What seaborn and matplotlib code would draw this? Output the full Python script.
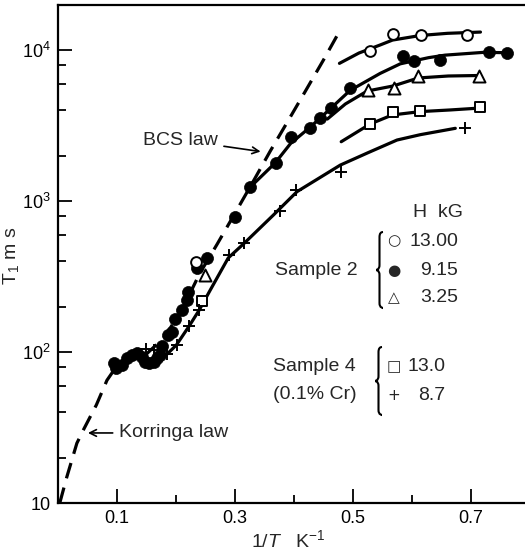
import matplotlib
matplotlib.use("Agg")
import matplotlib.pyplot as plt
import seaborn as sns
from matplotlib.path import Path
from matplotlib.patches import PathPatch
from matplotlib.ticker import FixedLocator, FixedFormatter, NullFormatter

# values: x = 1/T (K^-1), y = T1 (ms)
# sample 2, 13.00 kG (open circles)
s2_130_x = [0.2344, 0.529, 0.5675, 0.6146, 0.6925]
s2_130_y = [396, 9850, 12730, 12500, 12560]
# sample 2, 9.15 kG (filled circles)
s2_915_x = [0.095, 0.099, 0.108, 0.117, 0.125, 0.134, 0.142, 0.148, 0.155, 0.162,
            0.168, 0.173, 0.176, 0.187, 0.193, 0.199, 0.210, 0.219, 0.221, 0.236,
            0.2525, 0.3005, 0.325, 0.369, 0.395, 0.427, 0.444, 0.462, 0.495, 0.585,
            0.603, 0.6475, 0.730, 0.761]
s2_915_y = [85, 78, 82, 91, 95, 99, 93, 86, 84, 86,
            91, 95, 110, 130, 136, 165, 190, 221, 251, 358,
            418, 789, 1244, 1795, 2643, 3042, 3528, 4140, 5574, 9120,
            8490, 8630, 9700, 9510]
# sample 2, 3.25 kG (triangles)
s2_325_x = [0.2485, 0.5247, 0.5695, 0.6107, 0.713]
s2_325_y = [324, 5395, 5600, 6730, 6780]
# sample 4, 13.0 kG (squares)
s4_130_x = [0.244, 0.529, 0.5675, 0.613, 0.716]
s4_130_y = [219, 3250, 3882, 3935, 4175]
# sample 4, 8.7 kG (crosses)
s4_87_x = [0.149, 0.162, 0.185, 0.201, 0.2225, 0.2395, 0.289, 0.316, 0.3756, 0.404, 0.480, 0.690]
s4_87_y = [105, 103, 97, 111, 149, 190, 439, 525, 855, 1175, 1564, 3030]

# drawn curves
law_x = [0.003, 0.015, 0.032, 0.044, 0.065, 0.083, 0.097, 0.12, 0.15, 0.18,
         0.21, 0.24, 0.27, 0.30, 0.33, 0.36, 0.39, 0.42, 0.45, 0.478]
law_y = [10, 14.9, 24.9, 31, 44.6, 65, 78, 89, 97, 125,
         190, 330, 520, 830, 1330, 2150, 3400, 5400, 8600, 13500]
fit_130_x = [0.477, 0.51, 0.546, 0.567, 0.614, 0.66, 0.716]
fit_130_y = [8160, 9550, 10800, 11640, 12480, 12900, 13150]
fit_915_x = [0.326, 0.368, 0.394, 0.428, 0.462, 0.495, 0.546, 0.58, 0.628, 0.656, 0.721, 0.762]
fit_915_y = [1238, 1786, 2400, 3100, 4100, 5400, 7000, 8100, 8900, 9250, 9650, 9600]
fit_325_x = [0.4565, 0.487, 0.524, 0.568, 0.6107, 0.6615, 0.713]
fit_325_y = [3490, 4390, 5350, 5780, 6530, 6730, 6780]
fit_s4_130_x = [0.480, 0.529, 0.5666, 0.614, 0.665, 0.716]
fit_s4_130_y = [2470, 3236, 3715, 3910, 4010, 4130]
fit_s4_87_x = [0.185, 0.2005, 0.2225, 0.2395, 0.258, 0.2886, 0.316, 0.365, 0.405,
               0.4785, 0.526, 0.5746, 0.614, 0.6734]
fit_s4_87_y = [97, 111, 149, 190, 257, 420, 527, 807, 1153,
               1730, 2094, 2535, 2750, 3030]

sns.set_theme(style="ticks")
plt.rcParams["font.family"] = ["Liberation Sans", "DejaVu Sans"]
plt.rcParams["mathtext.fontset"] = "custom"
plt.rcParams["mathtext.rm"] = "Liberation Sans"
plt.rcParams["mathtext.it"] = "Liberation Sans:italic"

fig = plt.figure(figsize=(5.25, 5.51), dpi=100)
ax = fig.add_axes([58 / 525, 48 / 551, 467 / 525, 498 / 551])
ax.set_yscale("log")

line_kw = dict(ax=ax, color="black", lw=2.3, sort=False)
sns.lineplot(x=law_x, y=law_y, linestyle=(0, (5, 3)), **line_kw)
sns.lineplot(x=fit_130_x, y=fit_130_y, **line_kw)
sns.lineplot(x=fit_915_x, y=fit_915_y, **line_kw)
sns.lineplot(x=fit_325_x, y=fit_325_y, **line_kw)
sns.lineplot(x=fit_s4_130_x, y=fit_s4_130_y, **line_kw)
sns.lineplot(x=fit_s4_87_x, y=fit_s4_87_y, **line_kw)

sns.scatterplot(x=s2_915_x, y=s2_915_y, ax=ax, marker="o", s=75, color="black",
                edgecolor="black", linewidth=0.5, zorder=3)
sns.scatterplot(x=s2_130_x, y=s2_130_y, ax=ax, marker="o", s=60, facecolor="white",
                edgecolor="black", linewidth=1.4, zorder=3)
sns.scatterplot(x=s2_325_x, y=s2_325_y, ax=ax, marker="^", s=75, facecolor="white",
                edgecolor="black", linewidth=1.4, zorder=3)
sns.scatterplot(x=s4_130_x, y=s4_130_y, ax=ax, marker="s", s=50, facecolor="white",
                edgecolor="black", linewidth=1.4, zorder=3)
sns.scatterplot(x=s4_87_x, y=s4_87_y, ax=ax, marker="+", s=70, color="black",
                linewidth=1.4, zorder=3)

ax.set_xlim(0, 0.7915)
ax.set_ylim(10, 19870)
ax.xaxis.set_major_locator(FixedLocator([0.1, 0.3, 0.5, 0.7]))
ax.xaxis.set_major_formatter(FixedFormatter(["0.1", "0.3", "0.5", "0.7"]))
ax.xaxis.set_minor_locator(FixedLocator([0.2, 0.4, 0.6]))
ax.yaxis.set_major_locator(FixedLocator([10, 100, 1000, 10000]))
ax.yaxis.set_major_formatter(FixedFormatter(["10", r"$\mathregular{10^2}$",
                                             r"$\mathregular{10^3}$", r"$\mathregular{10^4}$"]))
minor_y = [m * d for d in (10, 100, 1000) for m in (2, 4, 6, 8)]
ax.yaxis.set_minor_locator(FixedLocator(minor_y))
ax.yaxis.set_minor_formatter(NullFormatter())
ax.tick_params(which="both", direction="in", width=1.3, colors="black",
               labelsize=13, top=False, right=False)
ax.tick_params(which="major", length=10, pad=5)
ax.tick_params(which="minor", length=6)
for side in ("left", "bottom", "top"):
    ax.spines[side].set_linewidth(1.6)
    ax.spines[side].set_color("black")
ax.spines["right"].set_visible(False)
ax.set_xlabel("")
ax.set_ylabel("")

fig.text(11 / 525, 1 - 256 / 551, r"$\mathregular{T_1}$ m s", rotation=90,
         ha="center", va="center", fontsize=14)
fig.text(288 / 525, 1 - 540 / 551, r"1/$\mathit{T}$   K$^{\mathregular{-1}}$",
         ha="center", va="center", fontsize=14)

arrow = dict(arrowstyle="->", color="black", lw=1.2, mutation_scale=12)
ax.annotate("BCS law", xy=(0.348, 2113), xytext=(0.271, 2535), fontsize=14,
            ha="right", va="center", arrowprops=arrow)
ax.annotate("Korringa law", xy=(0.046, 29.1), xytext=(0.103, 29.1), fontsize=14,
            ha="left", va="center", arrowprops=arrow)

# key
ax.text(0.6446, 845, "H  kG", fontsize=14, ha="center", va="center")
key_rows = [("○", "13.00", 543), ("●", "9.15", 349), ("△", "3.25", 230)]
for sym, lab, yv in key_rows:
    ax.text(0.569, yv, sym, fontsize=11, ha="center", va="center", family="DejaVu Sans")
    ax.text(0.678, yv, lab, fontsize=14, ha="right", va="center")
for sym, lab, yv in [("□", "13.0", 79.6), ("+", "8.7", 51.9)]:
    ax.text(0.569, yv, sym, fontsize=11, ha="center", va="center", family="DejaVu Sans")
    ax.text(0.656, yv, lab, fontsize=14, ha="right", va="center")
ax.text(0.367, 349, "Sample 2", fontsize=14, ha="left", va="center")
ax.text(0.365, 80, "Sample 4", fontsize=14, ha="left", va="center")
ax.text(0.365, 52, "(0.1% Cr)", fontsize=14, ha="left", va="center")


def brace(x_px, top_px, bot_px):
    # thin curly brace in figure pixels, converted to axes fraction
    def tr(px, py):
        return ((px - 58) / 467, (503 - py) / 498)
    xl, xm, xr = x_px, x_px + 3.5, x_px + 7
    mid = (top_px + bot_px) / 2
    r = 5
    pts = [(xr, top_px), (xm, top_px), (xm, top_px + r),
           (xm, mid - r),
           (xm, mid), (xl, mid), (xl, mid),
           (xl, mid), (xm, mid), (xm, mid + r),
           (xm, bot_px - r),
           (xm, bot_px), (xr, bot_px), (xr, bot_px)]
    codes = [Path.MOVETO, Path.CURVE3, Path.CURVE3,
             Path.LINETO,
             Path.CURVE4, Path.CURVE4, Path.CURVE4,
             Path.CURVE4, Path.CURVE4, Path.CURVE4,
             Path.LINETO,
             Path.CURVE4, Path.CURVE4, Path.CURVE4]
    path = Path([tr(*p) for p in pts], codes)
    ax.add_patch(PathPatch(path, transform=ax.transAxes, fill=False,
                           lw=1.5, color="black", clip_on=False))


brace(376, 232, 308)
brace(375, 347, 415)

fig.savefig("out.png", dpi=100)
